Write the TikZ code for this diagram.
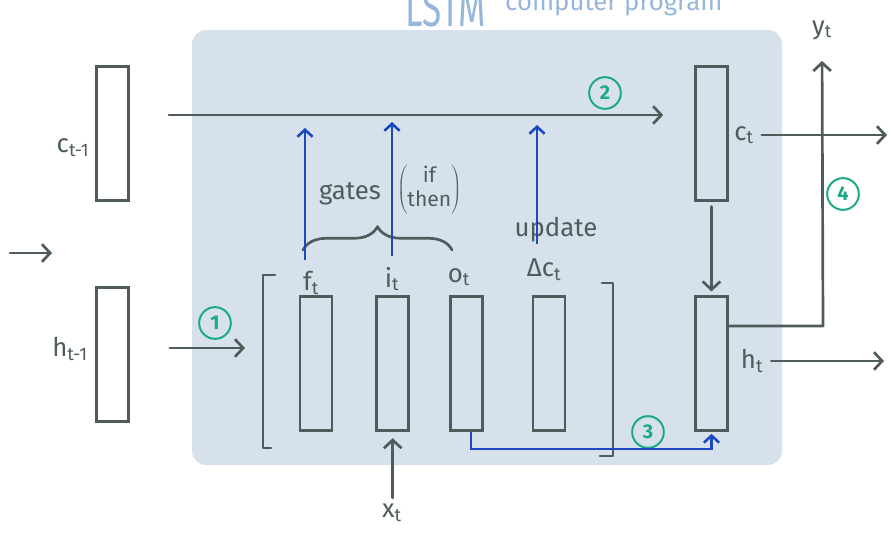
\documentclass[tikz,border=0pt]{standalone}
\usepackage{fontspec}
\setmainfont{Fira Sans}
\usetikzlibrary{arrows.meta,positioning,calc,decorations.pathreplacing}
\definecolor{inkgrey}{RGB}{80,92,92}
\definecolor{gateblue}{RGB}{28,74,190}
\definecolor{numgreen}{RGB}{26,170,136}
\definecolor{bgblue}{RGB}{214,225,236}
\definecolor{titleblue}{RGB}{150,182,218}

\begin{document}
\begin{tikzpicture}[
    x=0.03cm, y=-0.03cm,
    cell/.style={rectangle, draw=inkgrey, line width=2.3pt,
        minimum width=0.96cm, minimum height=4cm, inner sep=0pt},
    lbl/.style={text=inkgrey, inner sep=1pt,
        font=\fontsize{22}{24}\selectfont},
    num/.style={circle, draw=numgreen, text=numgreen, line width=1.7pt,
        minimum size=0.95cm, inner sep=0pt,
        font=\bfseries\fontsize{17}{18}\selectfont},
    ink/.style={draw=inkgrey, line width=2.3pt, line cap=round, line join=round},
    flow/.style={ink, -{Straight Barb[length=7pt,width=15pt,line width=2.3pt]}},
    gatearrow/.style={draw=gateblue, line width=2.4pt,
        -{Straight Barb[length=6pt,width=13pt,line width=2.2pt]}}
]
\useasboundingbox (0,0) rectangle (891,533);
\fill[bgblue, rounded corners=12pt] (192,30) rectangle (782,465);

% title (cut by the top edge)
\node[anchor=base, text=titleblue, inner sep=0pt,
      font=\fontsize{30}{30}\selectfont] (title) at (446,26) {\scalebox{1}[1.5]{LSTM}};
\node[anchor=base west, text=titleblue, inner sep=0pt,
      font=\fontsize{22}{22}\selectfont] (subtitle) at (505,10) {computer program};

% previous states
\node[cell] (cprev) at (112.5,133.5) {};
\node[cell] (hprev) at (112.5,354.5) {};
\node[lbl] (cprevlbl) at (73,148) {c\textsubscript{t-1}};
\node[lbl] (hprevlbl) at (70,349) {h\textsubscript{t-1}};

% gate vectors
\node[cell] (fgate) at (316,363.5) {};
\node[cell, right=1.26cm of fgate] (igate) {};
\node[cell, right=1.17cm of igate] (ogate) {};
\node[cell, right=1.44cm of ogate] (dcell) {};
\node[lbl] (flbl) at (311,283) {f\textsubscript{t}};
\node[lbl] (ilbl) at (392,279) {i\textsubscript{t}};
\node[lbl] (olbl) at (459,277) {o\textsubscript{t}};
\node[lbl] (dlbl) at (544,270) {Δc\textsubscript{t}};
\node[lbl] (updlbl) at (556,230) {update};

% brackets and brace
\draw[ink] (275,275) -- (263,275) -- (263,448) -- (271,448);
\draw[ink] (602,283) -- (613,283) -- (613,456) -- (600,456);
\draw[ink, decorate, decoration={brace, amplitude=20pt}] (303,250) -- (452,250);
\node[lbl] (gates) at (350,194) {gates};
\node[lbl, anchor=west, inner sep=0pt] (ifthen) at (397,190)
    {$\left(\vcenter{\hbox{\fontsize{18}{20}\selectfont
     \begin{tabular}{@{}c@{}}if\\then\end{tabular}}}\right)$};

% new states
\node[cell] (cnext) at (711.5,133.5) {};
\node[cell] (hnext) at (711.5,363.5) {};
\node[lbl] (cnextlbl) at (744,135) {c\textsubscript{t}};
\node[lbl] (hnextlbl) at (752,361) {h\textsubscript{t}};
\node[lbl] (ylbl) at (822,30) {y\textsubscript{t}};
\node[lbl] (xlbl) at (392,513) {x\textsubscript{t}};

% step numbers
\node[num] (n1) at (215,323) {1};
\node[num] (n2) at (605,93) {2};
\node[num] (n3) at (648,432) {3};
\node[num] (n4) at (843,194) {4};

% helper points
\coordinate (cline) at (0,115);
\coordinate (hline) at (0,348);
\coordinate (hin) at (245,348);
\coordinate (oline) at (0,449);
\coordinate (ycorner) at (823,326);
\coordinate (cout) at (887,135);
\coordinate (hout) at (884,361);
\coordinate (ftop) at (305,128);
\coordinate (itop) at (392,122);
\coordinate (utop) at (537,125);
\coordinate (sa) at (10,253);
\coordinate (sb) at (52,253);

% connectors
\draw[flow] (sa) -- (sb);
\draw[flow, shorten <=1.17cm, shorten >=0.93cm] (cprev.east |- cline) -- (cnext.west |- cline);
\draw[flow, shorten <=1.2cm] (hprev.east |- hline) -- (hin);
\draw[flow, shorten <=0.15cm, shorten >=0.12cm] (cnext.south) -- (hnext.north);
\draw[flow, shorten <=0.2cm] (cnextlbl.east) -- (cout);
\draw[flow, shorten <=0.2cm] (hnextlbl.east) -- (hout);
\draw[flow, shorten >=0.6cm] (hnext.east |- ycorner) -- (ycorner) -- (ylbl.south);
\draw[flow, shorten <=0.15cm, shorten >=0.2cm] (xlbl.north -| igate.south) -- (igate.south);

\draw[gatearrow, shorten <=0.3cm] (flbl.north -| ftop) -- (ftop);
\draw[gatearrow, shorten <=0.3cm] (ilbl.north -| itop) -- (itop);
\draw[gatearrow] (updlbl.south -| utop) -- (utop);
\draw[gatearrow, shorten >=2pt] ([xshift=4pt]ogate.south) -- ([xshift=4pt]ogate.south |- oline)
    -- (hnext.south |- oline) -- (hnext.south);
\end{tikzpicture}
\end{document}
